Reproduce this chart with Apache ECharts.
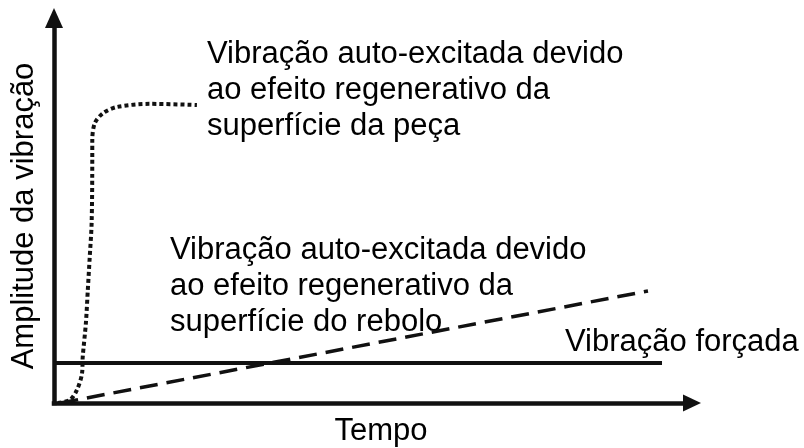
<!DOCTYPE html>
<html>
<head>
<meta charset="utf-8">
<script src="https://cdn.jsdelivr.net/npm/echarts@6/dist/echarts.min.js"></script>
<style>
  html, body { margin: 0; padding: 0; background: #fff; }
  #chart { width: 804px; height: 448px; }
</style>
</head>
<body>
<div id="chart"></div>
<script>
// curva pontilhada: peça (tempo, amplitude)
const pecaTempo = [0.06, 0.25, 0.36, 0.44, 0.45, 0.50, 0.53, 0.56, 0.59, 0.60, 0.60, 0.64, 0.77, 0.99, 1.50, 2.24];
const pecaAmp   = [0.00, 0.08, 0.34, 0.78, 1.19, 2.08, 2.94, 3.79, 4.68, 6.39, 6.83, 7.27, 7.53, 7.69, 7.77, 7.74];
// reta tracejada: rebolo
const reboloTempo = [0.10, 9.31];
const reboloAmp   = [0.00, 2.91];
// reta cheia: vibração forçada
const forcadaTempo = [0.00, 9.53];
const forcadaAmp   = [1.04, 1.04];

const labelPeca = ['Vibração auto-excitada devido', 'ao efeito regenerativo da', 'superfície da peça'];
const labelRebolo = ['Vibração auto-excitada devido', 'ao efeito regenerativo da', 'superfície do rebolo'];
const labelForcada = 'Vibração forçada';
const nomeX = 'Tempo';
const nomeY = 'Amplitude da vibração';

function pares(xs, ys) {
  return xs.map((x, i) => [x, ys[i]]);
}

const chart = echarts.init(document.getElementById('chart'));
const fonte = '"Liberation Sans", Arial, sans-serif';
const txt = {fill: '#000', fontSize: 31, fontFamily: fonte, lineHeight: 36};

const eixo = {
  type: 'value',
  min: 0,
  max: 10,
  axisTick: {show: false},
  axisLabel: {show: false},
  splitLine: {show: false},
  axisLine: {
    show: true,
    symbol: ['none', 'triangle'],
    lineStyle: {color: '#111', width: 4.5, cap: 'square'}
  }
};

const option = {
  backgroundColor: '#fff',
  animation: false,
  grid: {left: 54, right: 112, top: 18, bottom: 45},
  xAxis: Object.assign({}, eixo, {axisLine: Object.assign({}, eixo.axisLine, {symbolSize: [17, 18]})}),
  yAxis: Object.assign({}, eixo, {axisLine: Object.assign({}, eixo.axisLine, {symbolSize: [18, 20]})}),
  series: [{
    type: 'line',
    data: pares(forcadaTempo, forcadaAmp),
    symbol: 'none',
    silent: true,
    lineStyle: {color: '#111', width: 4}
  }, {
    type: 'line',
    data: pares(reboloTempo, reboloAmp),
    symbol: 'none',
    silent: true,
    lineStyle: {color: '#111', width: 3.5, type: [18, 9]}
  }, {
    type: 'line',
    data: pares(pecaTempo, pecaAmp),
    symbol: 'none',
    smooth: 0.3,
    silent: true,
    lineStyle: {color: '#111', width: 4, type: [4, 3]}
  }],
  graphic: [{
    type: 'text', left: 207, top: 36,
    style: Object.assign({text: labelPeca.join('\n')}, txt)
  }, {
    type: 'text', left: 170, top: 232,
    style: Object.assign({text: labelRebolo.join('\n')}, txt)
  }, {
    type: 'text', left: 565, top: 324,
    style: Object.assign({text: labelForcada}, txt)
  }, {
    type: 'text', x: 381, y: 413,
    style: Object.assign({text: nomeX, textAlign: 'center', textVerticalAlign: 'top'}, txt)
  }, {
    type: 'text', x: 24, y: 216, rotation: Math.PI / 2,
    style: Object.assign({text: nomeY, textAlign: 'center', textVerticalAlign: 'middle'}, txt)
  }]
};
chart.setOption(option);
</script>
</body>
</html>
